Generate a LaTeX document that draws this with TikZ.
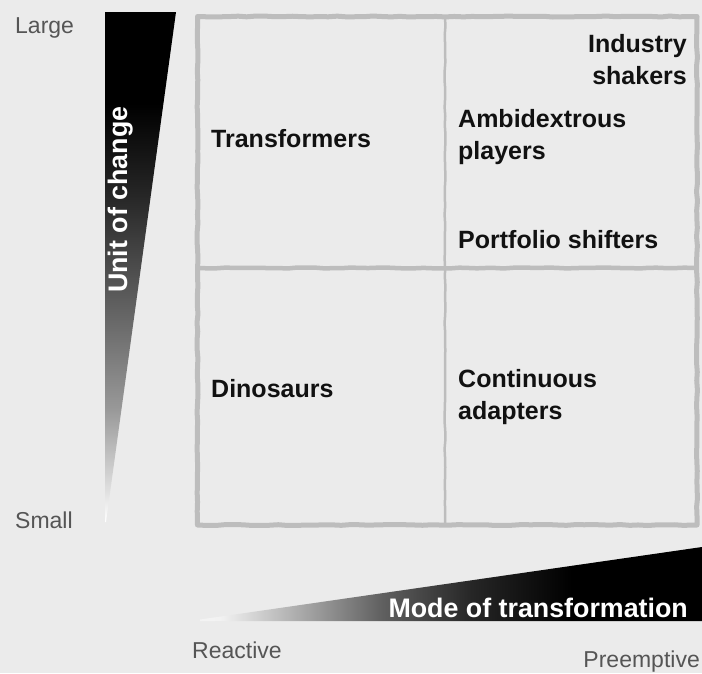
\documentclass[tikz,border=0pt]{standalone}
\usepackage{fontspec}
\setmainfont{Liberation Sans}
\usetikzlibrary{decorations.pathmorphing}
\definecolor{bg}{HTML}{EBEBEB}
\definecolor{gridc}{HTML}{BDBDBD}
\definecolor{lbl}{HTML}{555555}
\definecolor{qtxt}{HTML}{111111}
\pgfdeclareverticalshading{vwedge}{100bp}{color(0bp)=(white); color(25bp)=(white); color(28bp)=(black!12); color(36bp)=(black!40); color(47bp)=(black!64); color(57bp)=(black!85); color(66bp)=(black); color(100bp)=(black)}
\pgfdeclarehorizontalshading{hwedge}{100bp}{color(0bp)=(white); color(27bp)=(white!95!black); color(34bp)=(black!30); color(43bp)=(black!62); color(52bp)=(black!85); color(62bp)=(black); color(100bp)=(black)}
\tikzset{
  gridline/.style={draw=gridc, line cap=round, line join=round,
    decorate, decoration={random steps, segment length=9pt, amplitude=0.5pt}},
  quad/.style={inner sep=0pt, text=qtxt, font=\fontsize{25}{32}\selectfont\bfseries},
  axislabel/.style={inner sep=0pt, text=lbl, font=\fontsize{23}{27}\selectfont},
  axistitle/.style={inner sep=0pt, text=white, font=\fontsize{26.8}{30}\selectfont\bfseries}
}
\begin{document}
\begin{tikzpicture}[x=1pt,y=-1pt]
\pgfmathsetseed{7}
\fill[bg] (0,0) rectangle (702,673);
\useasboundingbox (0,0) rectangle (702,673);
% wedges
\shade[shading=vwedge] (105,12) -- (176,12) -- (106,522) -- (105,522) -- cycle;
\shade[shading=hwedge] (200,619.5) -- (702,547) -- (702,621) -- (200,621) -- cycle;
% grid
\draw[gridline, line width=5pt] (197.5,16.5) rectangle (697,525);
\draw[gridline, line width=2.5pt] (445,17) -- (445,524);
\draw[gridline, line width=4.5pt] (198,268) -- (696,268);
% quadrant labels
\node[quad, anchor=base west] (trans) at (211,147) {Transformers};
\node[quad, anchor=north east, align=right] (shak) at (687,34.5) {Industry\\shakers};
\node[quad, anchor=north west, align=left] (ambi) at (458,109.5) {Ambidextrous\\players};
\node[quad, anchor=base west] (port) at (458,248) {Portfolio shifters};
\node[quad, anchor=base west] (dino) at (211,397) {Dinosaurs};
\node[quad, anchor=north west, align=left] (cont) at (458,369.5) {Continuous\\adapters};
% axis labels
\node[axislabel, anchor=base west] (large) at (15,33) {Large};
\node[axislabel, anchor=base west] (small) at (15,528) {Small};
\node[axislabel, anchor=base west] (react) at (192,658) {Reactive};
\node[axislabel, anchor=base east] (preem) at (700,667) {Preemptive};
\node[axistitle, anchor=base west, rotate=90] (unit) at (127,293) {Unit of change};
\node[axistitle, anchor=base east] (mode) at (688,617) {Mode of transformation};
\end{tikzpicture}
\end{document}
